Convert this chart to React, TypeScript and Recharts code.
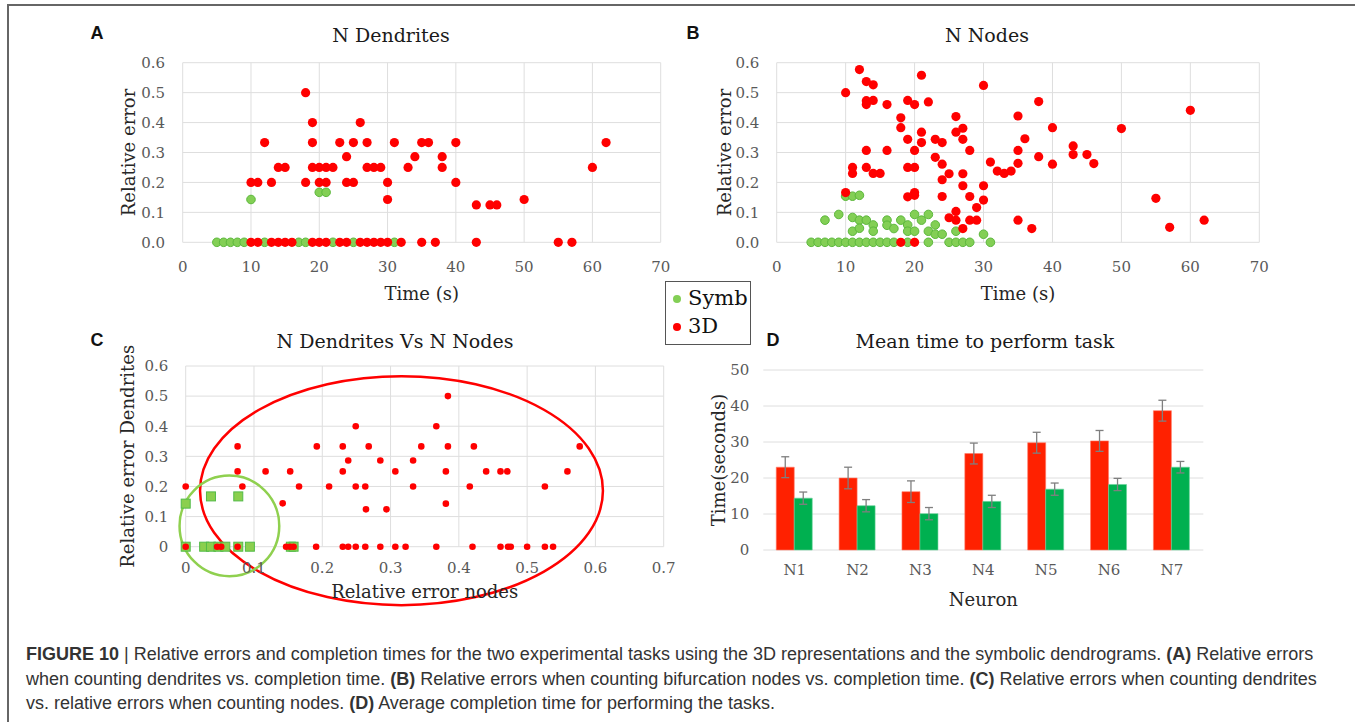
import React from "react";
import {
  ScatterChart,
  Scatter,
  XAxis,
  YAxis,
  CartesianGrid,
  ReferenceArea,
  BarChart,
  Bar,
  ErrorBar,
} from "recharts";

type Pt = [number, number];

// A: relative error when counting dendrites vs completion time (s)
const dendSymb: Pt[] = [
  [5, 0], [6, 0], [7, 0], [8, 0], [9, 0], [12, 0], [17, 0], [18, 0], [22, 0], [25, 0], [31, 0],
  [10, 0.143], [20, 0.167], [21, 0.167],
];
const dend3D: Pt[] = [
  [10, 0], [11, 0], [13, 0], [14, 0], [15, 0], [16, 0], [19, 0], [20, 0], [21, 0], [23, 0], [24, 0],
  [26, 0], [27, 0], [28, 0], [29, 0], [30, 0], [32, 0], [35, 0], [37, 0], [43, 0], [55, 0], [57, 0],
  [10, 0.2], [11, 0.2], [12, 0.333], [13, 0.2], [14, 0.25], [15, 0.25], [18, 0.5], [18, 0.2],
  [19, 0.4], [19, 0.333], [19, 0.25], [20, 0.25], [20, 0.2], [21, 0.25], [21, 0.2], [22, 0.25],
  [23, 0.333], [24, 0.286], [24, 0.2], [25, 0.333], [25, 0.2], [26, 0.4], [27, 0.333], [27, 0.25],
  [28, 0.25], [29, 0.25], [30, 0.2], [30, 0.143], [31, 0.333], [33, 0.25], [34, 0.286], [35, 0.333],
  [36, 0.333], [38, 0.286], [38, 0.25], [40, 0.333], [40, 0.2], [43, 0.125], [45, 0.125], [46, 0.125],
  [50, 0.143], [60, 0.25], [62, 0.333],
];

// B: relative error when counting bifurcation nodes vs completion time (s)
const nodeSymb: Pt[] = [
  [5, 0], [6, 0], [7, 0], [8, 0], [9, 0], [10, 0], [11, 0], [12, 0], [13, 0], [14, 0], [15, 0],
  [16, 0], [17, 0], [19, 0], [22, 0], [25, 0], [26, 0], [27, 0], [28, 0], [31, 0],
  [7, 0.074], [9, 0.093], [10, 0.154], [11, 0.154], [12, 0.157], [11, 0.083], [11, 0.037],
  [12, 0.074], [12, 0.047], [13, 0.074], [14, 0.058], [14, 0.037], [16, 0.074], [16, 0.057],
  [17, 0.046], [18, 0.074], [19, 0.058], [19, 0.037], [20, 0.093], [20, 0.037], [21, 0.074],
  [22, 0.093], [22, 0.037], [23, 0.058], [23, 0.027], [24, 0.027], [26, 0.037], [30, 0.027],
];
const node3D: Pt[] = [
  [18, 0], [20, 0],
  [10, 0.5], [10, 0.166], [11, 0.25], [11, 0.23], [12, 0.577], [13, 0.537], [13, 0.473], [13, 0.46],
  [13, 0.307], [13, 0.25], [14, 0.526], [14, 0.474], [14, 0.23], [15, 0.23], [16, 0.46], [16, 0.307],
  [18, 0.416], [18, 0.383], [19, 0.474], [19, 0.344], [19, 0.25], [19, 0.152], [20, 0.46], [20, 0.307],
  [20, 0.25], [20, 0.166], [20, 0.157], [21, 0.558], [21, 0.368], [21, 0.333], [22, 0.469],
  [23, 0.344], [23, 0.284], [24, 0.333], [24, 0.261], [24, 0.209], [24, 0.153], [25, 0.229],
  [25, 0.082], [26, 0.42], [26, 0.368], [26, 0.103], [26, 0.074], [27, 0.381], [27, 0.344],
  [27, 0.229], [27, 0.189], [27, 0.046], [28, 0.307], [28, 0.153], [28, 0.074], [29, 0.116],
  [29, 0.074], [30, 0.524], [30, 0.189], [30, 0.141], [31, 0.268], [32, 0.238], [33, 0.23],
  [34, 0.238], [35, 0.422], [35, 0.307], [35, 0.264], [35, 0.074], [36, 0.346], [37, 0.046],
  [38, 0.47], [38, 0.286], [40, 0.383], [40, 0.261], [43, 0.322], [43, 0.293], [45, 0.293],
  [46, 0.263], [50, 0.38], [55, 0.147], [57, 0.05], [60, 0.441], [62, 0.074],
];

// C: error counting nodes (x) vs error counting dendrites (y)
const pairSymb: Pt[] = [
  [0, 0.143], [0, 0], [0.037, 0.167], [0.077, 0.167], [0.027, 0], [0.037, 0], [0.048, 0],
  [0.058, 0], [0.077, 0], [0.094, 0], [0.154, 0], [0.158, 0],
];
const pair3D: Pt[] = [
  [0, 0.2], [0, 0], [0.046, 0], [0.052, 0], [0.076, 0.333], [0.076, 0.25], [0.076, 0], [0.083, 0.2],
  [0.117, 0.25], [0.142, 0.144], [0.147, 0], [0.153, 0.25], [0.153, 0], [0.158, 0], [0.166, 0.2],
  [0.191, 0], [0.192, 0.333], [0.21, 0.2], [0.23, 0.333], [0.23, 0.25], [0.23, 0], [0.238, 0.286],
  [0.238, 0], [0.249, 0.4], [0.249, 0.2], [0.249, 0], [0.263, 0.2], [0.264, 0.124], [0.263, 0],
  [0.268, 0.333], [0.285, 0.286], [0.285, 0], [0.294, 0.124], [0.307, 0.25], [0.307, 0], [0.322, 0],
  [0.333, 0.286], [0.333, 0.2], [0.345, 0.333], [0.367, 0.4], [0.367, 0], [0.381, 0.25],
  [0.381, 0.143], [0.384, 0.5], [0.384, 0.333], [0.416, 0.2], [0.42, 0], [0.422, 0.333],
  [0.44, 0.25], [0.461, 0.25], [0.461, 0], [0.471, 0.25], [0.472, 0], [0.476, 0], [0.5, 0],
  [0.526, 0.2], [0.526, 0], [0.538, 0], [0.559, 0.25], [0.577, 0.333],
];

const timeTicks = [0, 10, 20, 30, 40, 50, 60, 70];
const errTicks = [0, 0.1, 0.2, 0.3, 0.4, 0.5, 0.6];
const nodeErrTicks = [0, 0.1, 0.2, 0.3, 0.4, 0.5, 0.6, 0.7];

// D: mean time to perform task
const neurons = ["N1", "N2", "N3", "N4", "N5", "N6", "N7"];
const mean3D = [23.0, 20.0, 16.2, 26.8, 29.8, 30.3, 38.7];
const meanSymb = [14.4, 12.3, 10.1, 13.5, 16.9, 18.2, 23.0];
const err3D = [2.9, 3.0, 3.0, 2.9, 2.9, 2.9, 2.9];
const errSymb = [1.7, 1.7, 1.7, 1.7, 1.7, 1.7, 1.6];
const secTicks = [0, 10, 20, 30, 40, 50];

const RED = "#ff0000";
const LIGHT_GREEN = "#83cf55";
const GRID = "#dedede";
const SERIF = "'DejaVu Serif', serif";

const toObj = (pts: Pt[]) => pts.map(([x, y]) => ({ x, y }));

const tickStyle = { fill: "#595959", fontSize: 15, fontFamily: SERIF };
const labelStyle = { fill: "#262626", fontSize: 18, fontFamily: SERIF };

const circle = (fill: string, stroke: string, r: number) => (p: any) => (
  <circle cx={p.cx} cy={p.cy} r={r} fill={fill} stroke={stroke} strokeWidth={stroke === "none" ? 0 : 1} />
);
const square = (p: any) => (
  <rect x={p.cx - 4.5} y={p.cy - 4.5} width={9} height={9} fill="#8bcf4e" stroke="#52bb48" strokeWidth={1} />
);

const ellipse = (color: string) => (p: any) => (
  <ellipse
    cx={p.x + p.width / 2}
    cy={p.y + p.height / 2}
    rx={Math.abs(p.width) / 2}
    ry={Math.abs(p.height) / 2}
    fill="none"
    stroke={color}
    strokeWidth={2.5}
  />
);

interface PanelProps {
  left: number;
  top: number;
  width: number;
  height: number;
  margin: { top: number; right: number; bottom: number; left: number };
  symb: Pt[];
  d3: Pt[];
  xMax: number;
  xTicks: number[];
  yFmt: (v: number) => string;
  xLabel: string;
  yLabel: string;
  xTickMargin: number;
  yTickMargin: number;
  xLabelOffset: number;
  yLabelOffset: number;
  xAxisHeight: number;
  pairs?: boolean;
}

function ScatterPanel(p: PanelProps) {
  return (
    <div style={{ position: "absolute", left: p.left, top: p.top }}>
      <ScatterChart width={p.width} height={p.height} margin={p.margin}>
        <CartesianGrid stroke={GRID} strokeWidth={1} horizontal vertical />
        <XAxis
          type="number"
          dataKey="x"
          domain={[0, p.xMax]}
          ticks={p.xTicks}
          tickFormatter={(v: number) => String(v)}
          axisLine={false}
          tickLine={false}
          tickSize={0}
          tickMargin={p.xTickMargin}
          tick={tickStyle}
          height={p.xAxisHeight}
          label={{ value: p.xLabel, position: "insideBottom", offset: p.xLabelOffset, ...labelStyle }}
        />
        <YAxis
          type="number"
          dataKey="y"
          domain={[0, 0.6]}
          ticks={errTicks}
          tickFormatter={p.yFmt}
          axisLine={false}
          tickLine={false}
          tickSize={0}
          tickMargin={p.yTickMargin}
          tick={tickStyle}
          width={60}
          label={{
            value: p.yLabel,
            angle: -90,
            position: "insideLeft",
            offset: p.yLabelOffset,
            style: { textAnchor: "middle" },
            ...labelStyle,
          }}
        />
        <Scatter
          name="Symb"
          data={toObj(p.symb)}
          isAnimationActive={false}
          shape={p.pairs ? square : circle(LIGHT_GREEN, "#5cb83c", 4.3)}
        />
        <Scatter
          name="3D"
          data={toObj(p.d3)}
          isAnimationActive={false}
          shape={p.pairs ? circle(RED, "none", 3.3) : circle(RED, "none", 4.6)}
        />
        {p.pairs && (
          <ReferenceArea
            x1={0.021}
            x2={0.611}
            y1={-0.194}
            y2={0.566}
            ifOverflow="visible"
            shape={ellipse("#ff0000")}
          />
        )}
        {p.pairs && (
          <ReferenceArea
            x1={-0.009}
            x2={0.137}
            y1={-0.098}
            y2={0.236}
            ifOverflow="visible"
            shape={ellipse("#8fd04f")}
          />
        )}
      </ScatterChart>
    </div>
  );
}

function TimeBars() {
  const data = neurons.map((name, i) => ({
    name,
    d3: mean3D[i],
    symb: meanSymb[i],
    e3: err3D[i],
    es: errSymb[i],
  }));
  return (
    <div style={{ position: "absolute", left: 680, top: 330 }}>
      <BarChart
        width={560}
        height={290}
        data={data}
        margin={{ top: 40, right: 36.7, bottom: 10, left: 23.3 }}
        barCategoryGap="20.6%"
        barGap={0}
      >
        <CartesianGrid stroke={GRID} vertical={false} />
        <XAxis
          dataKey="name"
          axisLine={false}
          tickLine={false}
          tickSize={0}
          tickMargin={14.7}
          tick={tickStyle}
          height={60}
          label={{ value: "Neuron", position: "insideBottom", offset: 3.6, ...labelStyle }}
        />
        <YAxis
          type="number"
          domain={[0, 50]}
          ticks={secTicks}
          axisLine={false}
          tickLine={false}
          tickSize={0}
          tickMargin={14}
          tick={tickStyle}
          width={60}
          label={{
            value: "Time(seconds)",
            angle: -90,
            position: "insideLeft",
            offset: 15,
            style: { textAnchor: "middle" },
            ...labelStyle,
          }}
        />
        <Bar dataKey="d3" fill="#ff2100" stroke="#ff7a66" strokeWidth={0.6} isAnimationActive={false}>
          <ErrorBar dataKey="e3" width={4} stroke="#7f7f7f" strokeWidth={1.3} direction="y" />
        </Bar>
        <Bar dataKey="symb" fill="#00b050" stroke="#66d199" strokeWidth={0.6} isAnimationActive={false}>
          <ErrorBar dataKey="es" width={4} stroke="#7f7f7f" strokeWidth={1.3} direction="y" />
        </Bar>
      </BarChart>
    </div>
  );
}

const abs = (x: number, y: number): React.CSSProperties => ({
  position: "absolute",
  left: x,
  top: y,
  transform: "translate(-50%, -50%)",
  whiteSpace: "nowrap",
});

const titleStyle: React.CSSProperties = { fontFamily: SERIF, fontSize: 19, color: "#1a1a1a" };
const letterStyle: React.CSSProperties = {
  fontFamily: "'Liberation Sans', Arial, sans-serif",
  fontWeight: 700,
  fontSize: 18,
  color: "#111",
};
const captionStyle: React.CSSProperties = {
  position: "absolute",
  left: 26,
  fontFamily: "'Liberation Sans', Arial, sans-serif",
  fontSize: 18,
  color: "#333",
  whiteSpace: "nowrap",
  lineHeight: "22px",
};

export default function App() {
  const fmt1 = (v: number) => v.toFixed(1);
  return (
    <div
      style={{
        position: "absolute",
        left: 0,
        top: 0,
        width: 1355,
        height: 722,
        overflow: "hidden",
        background: "#fff",
      }}
    >
      <div style={{ position: "absolute", left: 7, top: 4, width: 1348, height: 2, background: "#666" }} />
      <div style={{ position: "absolute", left: 7, top: 4, width: 2, height: 718, background: "#666" }} />

      <div style={{ ...abs(97, 33), ...letterStyle }}>A</div>
      <div style={{ ...abs(693, 33), ...letterStyle }}>B</div>
      <div style={{ ...abs(97, 340), ...letterStyle }}>C</div>
      <div style={{ ...abs(773, 340), ...letterStyle }}>D</div>

      <div style={{ ...abs(391, 35), ...titleStyle }}>N Dendrites</div>
      <div style={{ ...abs(987, 35), ...titleStyle }}>N Nodes</div>
      <div style={{ ...abs(395, 341), ...titleStyle }}>N Dendrites Vs N Nodes</div>
      <div style={{ ...abs(985, 341), ...titleStyle }}>Mean time to perform task</div>

      <ScatterPanel
        left={100}
        top={40}
        width={580}
        height={280}
        margin={{ top: 22.7, right: 19.3, bottom: 17.7, left: 22.7 }}
        symb={dendSymb}
        d3={dend3D}
        xMax={70}
        xTicks={timeTicks}
        yFmt={fmt1}
        xLabel="Time (s)"
        yLabel="Relative error"
        xTickMargin={19.1}
        yTickMargin={17.7}
        xLabelOffset={2.6}
        yLabelOffset={5.6}
        xAxisHeight={60}
      />
      <ScatterPanel
        left={700}
        top={40}
        width={580}
        height={280}
        margin={{ top: 22.7, right: 20.7, bottom: 17.7, left: 16.7 }}
        symb={nodeSymb}
        d3={node3D}
        xMax={70}
        xTicks={timeTicks}
        yFmt={fmt1}
        xLabel="Time (s)"
        yLabel="Relative error"
        xTickMargin={19.1}
        yTickMargin={17.4}
        xLabelOffset={2.6}
        yLabelOffset={8.3}
        xAxisHeight={60}
      />
      <ScatterPanel
        left={100}
        top={330}
        width={580}
        height={290}
        margin={{ top: 36, right: 16.3, bottom: 18.3, left: 25.7 }}
        symb={pairSymb}
        d3={pair3D}
        xMax={0.7}
        xTicks={nodeErrTicks}
        yFmt={(v: number) => String(v)}
        xLabel="Relative error nodes"
        yLabel="Relative error Dendrites"
        xTickMargin={15.5}
        yTickMargin={17.4}
        xLabelOffset={3.3}
        yLabelOffset={2}
        xAxisHeight={55}
        pairs
      />
      <TimeBars />

      <div
        style={{
          position: "absolute",
          left: 665,
          top: 281,
          width: 84,
          height: 62,
          border: "1.5px solid #555",
          background: "#fff",
          fontFamily: SERIF,
          fontSize: 21,
          color: "#111",
        }}
      >
        <div style={{ position: "absolute", left: 7, top: 13, width: 8, height: 8, borderRadius: 4, background: LIGHT_GREEN }} />
        <div style={{ position: "absolute", left: 22, top: 3, lineHeight: "26px" }}>Symb</div>
        <div style={{ position: "absolute", left: 7, top: 41, width: 8, height: 8, borderRadius: 4, background: RED }} />
        <div style={{ position: "absolute", left: 22, top: 31, lineHeight: "26px" }}>3D</div>
      </div>

      <div style={{ ...captionStyle, top: 643 }}>
        <b>FIGURE 10</b> | Relative errors and completion times for the two experimental tasks using the 3D
        representations and the symbolic dendrograms. <b>(A)</b> Relative errors
      </div>
      <div style={{ ...captionStyle, top: 668 }}>
        when counting dendrites vs. completion time. <b>(B)</b> Relative errors when counting bifurcation nodes vs.
        completion time. <b>(C)</b> Relative errors when counting dendrites
      </div>
      <div style={{ ...captionStyle, top: 692 }}>
        vs. relative errors when counting nodes. <b>(D)</b> Average completion time for performing the tasks.
      </div>
    </div>
  );
}
